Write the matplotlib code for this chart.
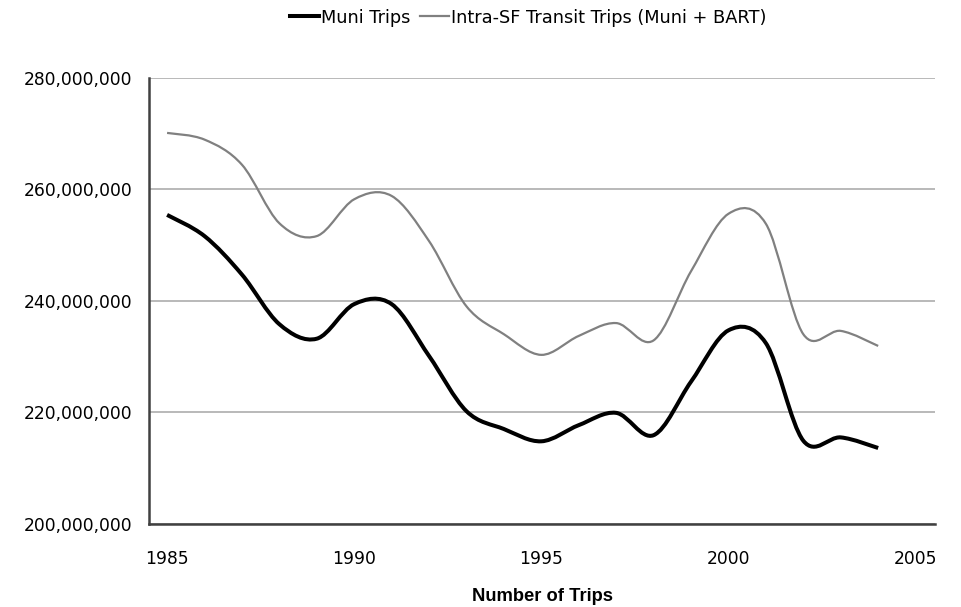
import matplotlib
matplotlib.use("Agg")
import matplotlib.pyplot as plt
from matplotlib.path import Path
from matplotlib.patches import PathPatch
from matplotlib.lines import Line2D
from matplotlib.ticker import FuncFormatter
import numpy as np

years = [1985, 1986, 1987, 1988, 1989, 1990, 1991, 1992, 1993, 1994,
         1995, 1996, 1997, 1998, 1999, 2000, 2001, 2002, 2003, 2004]
muni = [255.4, 251.6, 244.7, 235.8, 233.2, 239.4, 239.4, 230.1, 220.2, 217.0,
        214.8, 217.7, 219.9, 215.9, 225.5, 234.7, 232.4, 214.9, 215.5, 213.6]
intra_sf = [270.1, 268.9, 264.4, 253.9, 251.6, 258.2, 258.8, 250.7, 239.0, 234.0,
            230.3, 233.7, 236.0, 232.9, 245.3, 255.6, 253.8, 234.0, 234.6, 231.9]
series_names = ["Muni Trips", "Intra-SF Transit Trips (Muni + BART)"]
x_ticks = [1985, 1990, 1995, 2000, 2005]
y_ticks = [200, 220, 240, 260, 280]

plt.rcParams['font.family'] = ['DejaVu Sans']

fig = plt.figure(figsize=(9.62, 6.07), dpi=100)
ax = fig.add_axes([0.155, 0.137, 0.817, 0.735])


def smooth_path(xs, ys):
    # Excel-style smoothed line: cubic Bezier segments through each data point
    xs = np.asarray(xs, float)
    ys = np.asarray(ys, float) * 1e6
    n = len(xs)
    verts = [(xs[0], ys[0])]
    codes = [Path.MOVETO]
    for i in range(n - 1):
        p0 = (xs[max(i - 1, 0)], ys[max(i - 1, 0)])
        p1 = (xs[i], ys[i])
        p2 = (xs[i + 1], ys[i + 1])
        p3 = (xs[min(i + 2, n - 1)], ys[min(i + 2, n - 1)])
        c1 = (p1[0] + (p2[0] - p0[0]) / 6, p1[1] + (p2[1] - p0[1]) / 6)
        c2 = (p2[0] - (p3[0] - p1[0]) / 6, p2[1] - (p3[1] - p1[1]) / 6)
        verts += [c1, c2, p2]
        codes += [Path.CURVE4] * 3
    return Path(verts, codes)


styles = [dict(color="#000000", lw=2.9), dict(color="#808080", lw=1.6)]
for vals, st in zip([muni, intra_sf], styles):
    patch = PathPatch(smooth_path(years, vals), facecolor="none",
                      edgecolor=st["color"], lw=st["lw"], capstyle="butt",
                      joinstyle="round", zorder=3)
    ax.add_patch(patch)

ax.set_xlim(1984.52, 2005.52)
ax.set_ylim(200e6, 280e6)
ax.set_xticks(x_ticks)
ax.set_yticks([v * 1e6 for v in y_ticks])
ax.yaxis.set_major_formatter(FuncFormatter(lambda v, p: f"{int(round(v)):,}"))
ax.tick_params(axis="both", length=0, labelsize=12.3, colors="#000000", pad=12)
ax.tick_params(axis="x", pad=19)
ax.grid(axis="y", color="#a6a6a6", lw=1.1)
ax.set_axisbelow(True)
for s in ["top", "right"]:
    ax.spines[s].set_visible(False)
for s in ["left", "bottom"]:
    ax.spines[s].set_color("#404040")
    ax.spines[s].set_linewidth(1.8)

ax.set_xlabel("Number of Trips", fontsize=13.2, fontweight="bold",
              family="Liberation Sans", labelpad=14)

handles = [Line2D([], [], **styles[0]), Line2D([], [], **styles[1])]
fig.legend(handles, series_names, loc="upper center", bbox_to_anchor=(0.549, 1.012),
           ncol=2, frameon=False, fontsize=12.8, handlelength=1.65,
           handletextpad=0.1, columnspacing=0.5)

fig.savefig("out.png", dpi=100)
